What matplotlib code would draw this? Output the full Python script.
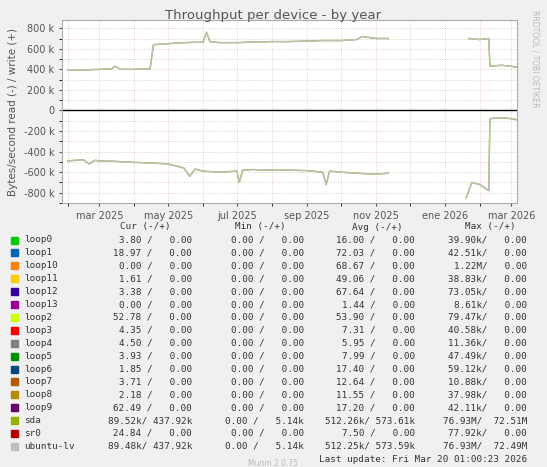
import numpy as np
import pandas as pd
import matplotlib.pyplot as plt
import matplotlib.dates as mdates

# write (+) in k, read (-) in k; NaN = no data
w_dates = ["2025-02-01", "2025-02-15", "2025-03-01", "2025-03-12", "2025-03-15", "2025-03-20", "2025-04-01",
           "2025-04-15", "2025-04-18", "2025-05-01", "2025-05-15", "2025-06-01", "2025-06-04", "2025-06-07",
           "2025-06-15", "2025-07-01", "2025-07-15", "2025-08-01", "2025-08-15", "2025-09-01", "2025-09-15",
           "2025-10-01", "2025-10-15", "2025-10-20", "2025-11-01", "2025-11-12", "2025-11-13", "2026-01-21",
           "2026-01-22", "2026-02-01", "2026-02-09", "2026-02-10", "2026-02-20", "2026-03-01", "2026-03-06"]
w_vals = [390, 395, 400, 405, 430, 400, 400, 405, 640, 650, 660, 665, 760, 670, 660, 660, 665, 670, 670,
          675, 680, 680, 690, 720, 700, 700, np.nan, np.nan, 700, 690, 700, 430, 440, 430, 420]

r_dates = ["2025-02-01", "2025-02-15", "2025-02-20", "2025-02-25", "2025-03-01", "2025-03-15", "2025-04-01",
           "2025-04-15", "2025-05-01", "2025-05-15", "2025-05-20", "2025-05-25", "2025-06-01", "2025-06-15",
           "2025-07-01", "2025-07-03", "2025-07-06", "2025-07-15", "2025-08-01", "2025-08-15", "2025-09-01",
           "2025-09-15", "2025-09-18", "2025-09-21", "2025-10-01", "2025-10-15", "2025-11-01", "2025-11-12",
           "2025-11-13", "2026-01-19", "2026-01-20", "2026-01-25", "2026-02-01", "2026-02-09", "2026-02-10",
           "2026-02-20", "2026-03-01", "2026-03-06"]
r_vals = [-490, -480, -520, -485, -490, -495, -505, -510, -520, -560, -640, -570, -590, -600, -590, -700,
          -580, -575, -580, -580, -585, -600, -720, -590, -600, -610, -620, -610, np.nan, np.nan, -850, -700,
          -720, -780, -80, -70, -80, -90]

names = ["loop0", "loop1", "loop10", "loop11", "loop12", "loop13", "loop2", "loop3", "loop4", "loop5",
         "loop6", "loop7", "loop8", "loop9", "sda", "sr0", "ubuntu-lv"]
colors = ["#00CC00", "#0066B3", "#FF8000", "#FFCC00", "#330099", "#990099", "#CCFF00", "#FF0000",
          "#808080", "#008F00", "#00487D", "#B35A00", "#B38F00", "#6B006B", "#8FB300", "#B30000", "#BEBEBE"]
cur = ["3.80 /   0.00", "18.97 /   0.00", "0.00 /   0.00", "1.61 /   0.00", "3.38 /   0.00",
       "0.00 /   0.00", "52.78 /   0.00", "4.35 /   0.00", "4.50 /   0.00", "3.93 /   0.00",
       "1.85 /   0.00", "3.71 /   0.00", "2.18 /   0.00", "62.49 /   0.00", "89.52k/ 437.92k",
       "24.84 /   0.00", "89.48k/ 437.92k"]
mins = ["0.00 /   0.00"] * 14 + ["0.00 /   5.14k", "0.00 /   0.00", "0.00 /   5.14k"]
avgs = ["16.00 /   0.00", "72.03 /   0.00", "68.67 /   0.00", "49.06 /   0.00", "67.64 /   0.00",
        "1.44 /   0.00", "53.90 /   0.00", "7.31 /   0.00", "5.95 /   0.00", "7.99 /   0.00",
        "17.40 /   0.00", "12.64 /   0.00", "11.55 /   0.00", "17.20 /   0.00", "512.26k/ 573.61k",
        "7.50 /   0.00", "512.25k/ 573.59k"]
maxs = ["39.90k/   0.00", "42.51k/   0.00", "1.22M/   0.00", "38.83k/   0.00", "73.05k/   0.00",
        "8.61k/   0.00", "79.47k/   0.00", "40.58k/   0.00", "11.36k/   0.00", "47.49k/   0.00",
        "59.12k/   0.00", "10.88k/   0.00", "37.98k/   0.00", "42.11k/   0.00", "76.93M/  72.51M",
        "77.92k/   0.00", "76.93M/  72.49M"]

W, H = 547, 467
fig = plt.figure(figsize=(W / 100, H / 100), dpi=100, facecolor="#F0F0F0")
ax = fig.add_axes([62 / W, 1 - 203 / H, 455 / W, 183 / H])
ax.set_facecolor("white")

wd = pd.to_datetime(w_dates)
rd = pd.to_datetime(r_dates)
for c in ["#8FB300", "#BEBEBE"]:
    ax.plot(wd, np.array(w_vals) * 1000, color=c, lw=1)
    ax.plot(rd, np.array(r_vals) * 1000, color=c, lw=1)
ax.axhline(0, color="black", lw=1)

ax.set_xlim(pd.Timestamp("2025-01-27"), pd.Timestamp("2026-03-06"))
ax.set_ylim(-900000, 880000)
yt = np.arange(-800000, 800001, 200000)
ax.set_yticks(yt)
ax.set_yticklabels([f"{v // 1000:d} k" if v else "0" for v in yt])
ticks = pd.to_datetime(["2025-03-01", "2025-05-01", "2025-07-01", "2025-09-01", "2025-11-01",
                        "2026-01-01", "2026-03-01"])
ax.set_xticks(ticks)
ax.set_xticklabels(["mar 2025", "may 2025", "jul 2025", "sep 2025", "nov 2025", "ene 2026", "mar 2026"])
ax.xaxis.set_minor_locator(mdates.MonthLocator())
ax.yaxis.set_minor_locator(plt.MultipleLocator(100000))
ax.grid(True, which="both", color="#E0C0C0", ls=":", lw=0.6)
ax.tick_params(labelsize=7, colors="#555555", length=2)
for s in ax.spines.values():
    s.set_color("#AAAAAA")
ax.set_ylabel("Bytes/second read (-) / write (+)", fontsize=7.5, color="#555555")
fig.text(0.5, 1 - 19 / H, "Throughput per device - by year", ha="center", fontsize=9.5, color="#555555")
fig.text(1 - 12 / W, 1 - 10 / H, "RRDTOOL / TOBI OETIKER", rotation=270, ha="center", va="top",
         fontsize=5.5, color="#BBBBBB")

mono = "DejaVu Sans Mono"
fs = 6.7
def ty(px):
    return 1 - px / H
hy = 227
for x, lab in [(145, "Cur (-/+)"), (260, "Min (-/+)"), (377, "Avg (-/+)"), (490, "Max (-/+)")]:
    fig.text(x / W, ty(hy), lab, family=mono, fontsize=fs, ha="center", va="center", color="#333333")
for i, n in enumerate(names):
    y = 240 + i * 12.9
    fig.patches.append(plt.Rectangle((11 / W, ty(y + 3.5)), 7 / W, 7 / H, transform=fig.transFigure,
                                     color=colors[i]))
    fig.text(24 / W, ty(y), n, family=mono, fontsize=fs, va="center", color="#333333")
    fig.text(192 / W, ty(y), cur[i], family=mono, fontsize=fs, va="center", ha="right", color="#333333")
    fig.text(304 / W, ty(y), mins[i], family=mono, fontsize=fs, va="center", ha="right", color="#333333")
    fig.text(415 / W, ty(y), avgs[i], family=mono, fontsize=fs, va="center", ha="right", color="#333333")
    fig.text(527 / W, ty(y), maxs[i], family=mono, fontsize=fs, va="center", ha="right", color="#333333")
fig.text(527 / W, ty(459), "Last update: Fri Mar 20 01:00:23 2026", family=mono, fontsize=fs,
         va="center", ha="right", color="#333333")
fig.text(0.5, ty(459), "Munin 2.0.75", fontsize=5.5, ha="center", va="top", color="#BBBBBB")

fig.savefig("out.png", dpi=100, facecolor=fig.get_facecolor())
